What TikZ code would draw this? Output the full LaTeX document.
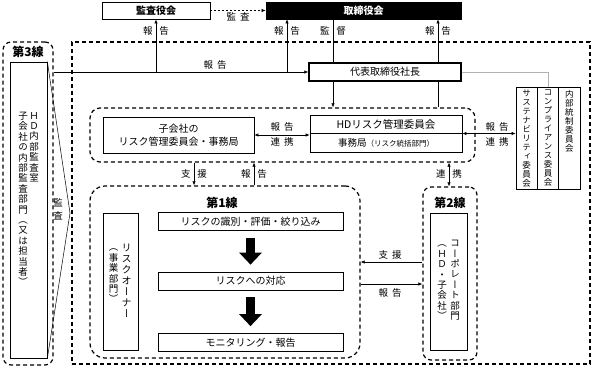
\documentclass[tikz,border=0pt]{standalone}
\usepackage{fontspec}
\setmainfont{Noto Sans CJK JP}
\newfontfamily\tatefont[RawFeature=+vert]{Noto Sans CJK JP}
\usetikzlibrary{arrows.meta}
\makeatletter
\newcommand\tate[1]{\def\tate@out{}\def\tate@sep{}%
  \@tfor\tate@c:=#1\do{\edef\tate@out{\unexpanded\expandafter{\tate@out}\unexpanded\expandafter{\tate@sep}\unexpanded\expandafter{\tate@c}}\def\tate@sep{\\}}%
  \tate@out}
\makeatother

\begin{document}
\begin{tikzpicture}[x=1pt,y=-1pt,
  box/.style={draw,line width=.7pt,inner sep=0pt,align=center,font=\fontsize{10}{12.5}\selectfont},
  grp/.style={draw,line width=1.2pt,dash pattern=on 4pt off 3pt,rounded corners=10pt,inner sep=0pt},
  lbl/.style={inner sep=0pt,font=\fontsize{9.5}{11}\selectfont},
  ttl/.style={inner sep=0pt,font=\fontsize{12}{14}\selectfont\bfseries},
  tate/.style={inner sep=0pt,anchor=north,align=center,font=\tatefont\fontsize{9.5}{10.4}\selectfont},
  arr/.style={-{Latex[length=4pt,width=3.4pt]},line width=.6pt},
  darr/.style={{Latex[length=4pt,width=3.4pt]}-{Latex[length=4pt,width=3.4pt]},line width=.6pt},
  blk/.style={line width=9pt,-{Triangle[length=12pt,width=22pt]},shorten <=7pt,shorten >=7pt}]
\useasboundingbox (0,0) rectangle (594,366);
\node[box,line width=.9pt,minimum width=108pt,minimum height=17pt,font=\fontsize{10}{12}\selectfont\bfseries] (audit) at (156,10.5) {監査役会};
\node[box,fill=black,text=white,minimum width=195pt,minimum height=17pt,font=\fontsize{10}{12}\selectfont\bfseries] (board) at (363.5,10.5) {取締役会};
\node[box,line width=1.3pt,minimum width=152pt,minimum height=18pt] (ceo) at (385,72) {代表取締役社長};
\node[grp,rounded corners=0pt,minimum width=518pt,minimum height=322pt] (whole) at (331,203) {};

\node[grp,rounded corners=8pt,minimum width=50pt,minimum height=323pt] (line3) at (28,203.5) {};
\node[ttl] (t3) at (28,52) {第3線};
\node[box,minimum width=37pt,minimum height=296pt] (audbox) at (28.5,210) {};
\node[tate] (aud1) at (34,112) {\tate{ＨＤ内部監査室}};
\node[tate] (aud2) at (23,112) {\tate{子会社の内部監査部門（又は担当者）}};
\coordinate (tip) at (70,213);
\draw[line width=.5pt] (audbox.north east) -- (tip) -- (audbox.south east);
\node[lbl,align=center,font=\fontsize{9.5}{13}\selectfont] (audlbl) at (58,209) {監\\査};

\node[grp,minimum width=385pt,minimum height=54pt] (hdgrp) at (282.5,135) {};
\node[box,minimum width=151pt,minimum height=36pt] (subrm) at (178.5,135) {子会社の\\リスク管理委員会・事務局};
\node[box,minimum width=152pt,minimum height=37pt] (hdrm) at (386,133.5) {};
\draw[line width=.7pt] (hdrm.west) -- (hdrm.east);
\node[inner sep=0pt,font=\fontsize{10.5}{12}\selectfont] (hdtop) at (386,124.5) {HDリスク管理委員会};
\node[inner sep=0pt,font=\fontsize{9.5}{12}\selectfont] (hdbot) at (386,142.5) {事務局{\fontsize{7.5}{9}\selectfont（リスク統括部門）}};

\node[box,minimum width=64pt,minimum height=102pt] (comm) at (548,138) {};
\draw[line width=.7pt] ([xshift=-10.7pt]comm.north) -- ([xshift=-10.7pt]comm.south);
\draw[line width=.7pt] ([xshift=10.7pt]comm.north) -- ([xshift=10.7pt]comm.south);
\node[tate,font=\tatefont\fontsize{8.5}{9}\selectfont] (c1) at (526.6,90) {\tate{サステナビリティ委員会}};
\node[tate,font=\tatefont\fontsize{8.5}{9}\selectfont] (c2) at (548,90) {\tate{コンプライアンス委員会}};
\node[tate,font=\tatefont\fontsize{8.5}{9}\selectfont] (c3) at (569.4,90) {\tate{内部統制委員会}};

\node[grp,rounded corners=15pt,minimum width=270pt,minimum height=172pt] (line1) at (225,272) {};
\node[ttl] (t1) at (222,203) {第1線};
\node[box,minimum width=185pt,minimum height=18pt] (step1) at (250.5,221.5) {リスクの識別・評価・絞り込み};
\node[box,minimum width=185pt,minimum height=18pt] (step2) at (250.5,281) {リスクへの対応};
\node[box,minimum width=185pt,minimum height=18pt] (step3) at (250.5,342.5) {モニタリング・報告};
\node[box,minimum width=35pt,minimum height=137pt] (owner) at (120.5,281.5) {};
\node[tate,font=\tatefont\fontsize{10}{11}\selectfont] (own1) at (126.5,244) {\tate{リスクオーナー}};
\node[tate] (own2) at (113.5,249) {\tate{（事業部門）}};

\node[grp,rounded corners=8pt,minimum width=54pt,minimum height=173pt] (line2) at (450,273.5) {};
\node[ttl] (t2) at (450,203) {第2線};
\node[box,minimum width=37pt,minimum height=137pt] (corp) at (448.5,281.5) {};
\node[tate] (corp1) at (455,240) {\tate{コーポレート部門}};
\node[tate] (corp2) at (442,245) {\tate{（ＨＤ・子会社）}};

\draw[arr,dash pattern=on 2pt off 2pt] (audit) -- (board);
\node[lbl] (l1) at (238,17) {監\hspace{4pt}査};
\draw[arr] (line3.east |- ceo.west) -- (ceo.west);
\node[lbl] (l2) at (215,65) {報\hspace{4pt}告};
\draw[arr] (audit.south |- ceo.west) -- (audit.south);
\node[lbl] (l3) at (156,31) {報\hspace{7pt}告};
\coordinate (rb) at (287,72);
\draw[arr] (rb) -- (rb |- board.south);
\node[lbl] (l4) at (287,31) {報\hspace{7pt}告};
\coordinate (sv) at (333,0);
\draw[line width=.6pt] (sv |- board.south) -- (sv |- ceo.north);
\draw[arr] (sv |- ceo.south) -- (sv |- hdgrp.north);
\node[lbl] (l5) at (333,31) {監\hspace{7pt}督};
\coordinate (rp) at (438,0);
\draw[line width=.6pt] (rp |- hdgrp.north) -- (rp |- ceo.south);
\draw[arr] (rp |- ceo.north) -- (rp |- board.south);
\node[lbl] (l6) at (438,31) {報\hspace{7pt}告};
\draw[gray!60,line width=.8pt] (ceo.east) -| (comm.north);

\draw[darr] (hdrm.east) -- (hdrm.east -| comm.west);
\node[lbl] (l7) at (497,126.5) {報\hspace{4pt}告};
\node[lbl] (l8) at (497,141.5) {連\hspace{4pt}携};
\draw[darr] (subrm.east) -- (subrm.east -| hdrm.west);
\node[lbl] (l9) at (282,126.5) {報\hspace{4pt}告};
\node[lbl] (l10) at (282,141.5) {連\hspace{4pt}携};

\coordinate (sp) at (194,0);
\draw[arr] (sp |- hdgrp.south) -- (sp |- line1.north);
\node[lbl] (l11) at (194,174) {支\hspace{7pt}援};
\coordinate (rq) at (254,0);
\draw[arr] (rq |- line1.north) -- (rq |- hdgrp.south);
\node[lbl] (l12) at (254,174) {報\hspace{7pt}告};
\coordinate (lk) at (449,0);
\draw[darr] (lk |- hdgrp.south) -- (lk |- line2.north);
\node[lbl] (l13) at (449,174) {連\hspace{7pt}携};

\draw[arr] ([yshift=11.5pt]line2.west) -- ([yshift=11.5pt]line2.west -| line1.east);
\node[lbl] (l14) at (390,255) {支\hspace{4pt}援};
\draw[arr] ([yshift=-10.5pt]line2.west -| line1.east) -- ([yshift=-10.5pt]line2.west);
\node[lbl] (l15) at (390,293) {報\hspace{4pt}告};

\draw[blk] (step1.south) -- (step2.north);
\draw[blk] (step2.south) -- (step3.north);
\end{tikzpicture}
\end{document}
